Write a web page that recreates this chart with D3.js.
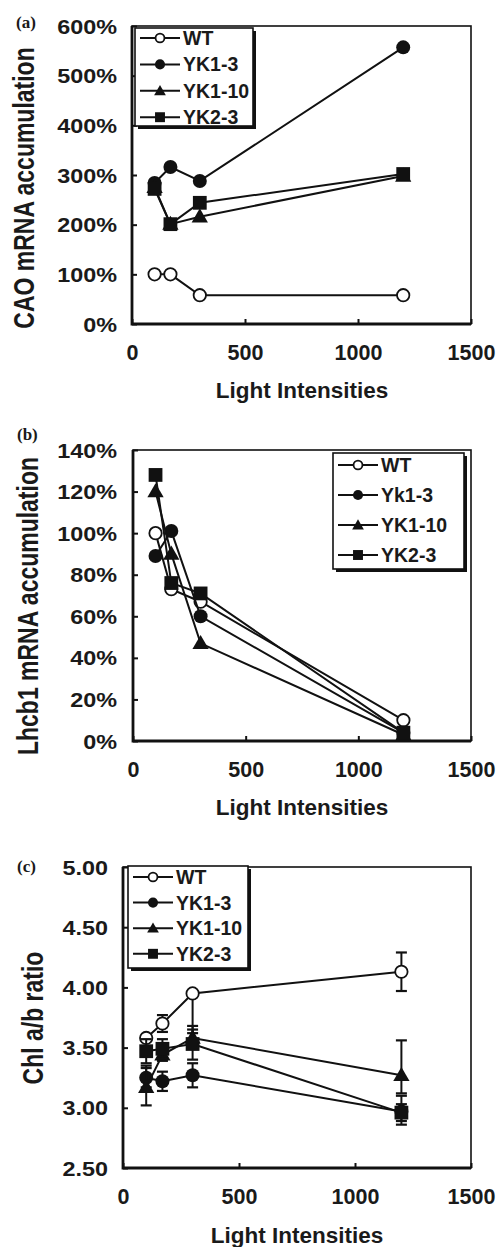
<!DOCTYPE html>
<html>
<head>
<meta charset="utf-8">
<script src="https://cdn.jsdelivr.net/npm/d3@7"></script>
<style>
  body { margin: 0; background: #fff; }
  svg { display: block; }
  text { font-family: "Liberation Sans", Arial, sans-serif; font-weight: bold; fill: #1a1a1a; }
</style>
</head>
<body>
<svg id="chart" width="499" height="1247"></svg>
<script>
// light intensities (x) shared by all panels
const lightX = [100, 170, 300, 1200];
const xTicks = [0, 500, 1000, 1500];

// (a) CAO mRNA accumulation, %
const caoNames = ["WT", "YK1-3", "YK1-10", "YK2-3"];
const caoWT = [100, 100, 58, 58];
const caoYK13 = [284, 316, 288, 557];
const caoYK110 = [275, 201, 216, 298];
const caoYK23 = [272, 201, 244, 302];
const caoTicks = [0, 100, 200, 300, 400, 500, 600];

// (b) Lhcb1 mRNA accumulation, %
const lhcbNames = ["WT", "Yk1-3", "YK1-10", "YK2-3"];
const lhcbWT = [100, 73, 67, 10];
const lhcbYK13 = [89, 101, 60, 4];
const lhcbYK110 = [120, 90, 47, 3];
const lhcbYK23 = [128, 76, 71, 4];
const lhcbTicks = [0, 20, 40, 60, 80, 100, 120, 140];

// (c) Chl a/b ratio with error bars (up / down)
const chlNames = ["WT", "YK1-3", "YK1-10", "YK2-3"];
const chlWT = [3.58, 3.70, 3.95, 4.13];
const chlYK13 = [3.25, 3.22, 3.27, 2.97];
const chlYK110 = [3.17, 3.44, 3.58, 3.27];
const chlYK23 = [3.47, 3.49, 3.53, 2.96];
const errUpWT = [0.03, 0.07, 0, 0.16];
const errDnWT = [0.03, 0.07, 0.33, 0.16];
const errUpYK13 = [0.08, 0.08, 0.1, 0.13];
const errDnYK13 = [0.08, 0.08, 0.1, 0.11];
const errUpYK110 = [0.18, 0.05, 0.07, 0.29];
const errDnYK110 = [0.15, 0.05, 0.07, 0.15];
const errUpYK23 = [0.1, 0.08, 0.15, 0.07];
const errDnYK23 = [0.1, 0.08, 0.13, 0.07];
const chlTicks = [2.5, 3.0, 3.5, 4.0, 4.5, 5.0];

const markerTypes = ["open", "circle", "triangle", "square"];

let svg = d3.select("#chart");

function drawMarker(g, type, x, y, small) {
  let k = small ? 0.72 : 1;
  if (type == "open") {
    g.append("circle").attr("cx", x).attr("cy", y).attr("r", 6.2 * k)
      .style("fill", "#fff").style("stroke", "#111").style("stroke-width", 1.8);
  } else if (type == "circle") {
    g.append("circle").attr("cx", x).attr("cy", y).attr("r", 7 * k).style("fill", "#111");
  } else if (type == "triangle") {
    g.append("path").attr("transform", `translate(${x},${y + 1})`)
      .attr("d", d3.symbol(d3.symbolTriangle, 115 * k * k)()).style("fill", "#111");
  } else {
    g.append("path").attr("transform", `translate(${x},${y})`)
      .attr("d", d3.symbol(d3.symbolSquare, 190 * k * k)()).style("fill", "#111");
  }
}

function drawPanel(p) {
  let g = svg.append("g");
  let xScale = d3.scaleLinear().domain([0, 1500]).range([p.left, p.right]);
  let yScale = d3.scaleLinear().domain(p.yDomain).range([p.bottom, p.top]);

  // frame
  g.append("rect")
    .attr("x", p.left).attr("y", p.top)
    .attr("width", p.right - p.left).attr("height", p.bottom - p.top)
    .style("fill", "none").style("stroke", "#111").style("stroke-width", 1.6);
  g.append("path")
    .attr("d", `M${p.left},${p.top}V${p.bottom}H${p.right}`)
    .style("fill", "none").style("stroke", "#111").style("stroke-width", 2.8);

  // axes (ticks point inside)
  let xAxis = g.append("g")
    .attr("transform", `translate(0,${p.bottom})`)
    .call(d3.axisBottom(xScale).tickValues(xTicks).tickFormat(d3.format("d")).tickSize(-5).tickPadding(21));
  xAxis.select(".domain").remove();
  xAxis.selectAll("line").style("stroke", "#111").style("stroke-width", 2);
  xAxis.selectAll("text").style("font-size", "21.5px").style("font-family", null).attr("fill", "#1a1a1a");

  let sx = 1.2;
  let yAxis = g.append("g")
    .attr("transform", `translate(${p.left},0)`)
    .call(d3.axisLeft(yScale).tickValues(p.yTicks).tickFormat(p.fmt).tickSize(-5));
  yAxis.select(".domain").remove();
  yAxis.selectAll("line").style("stroke", "#111").style("stroke-width", 2);
  yAxis.selectAll("text")
    .attr("x", -p.labelGap / sx)
    .attr("dy", "0.36em")
    .attr("transform", `scale(${sx},1)`)
    .attr("fill", "#1a1a1a")
    .style("font-size", "19.5px").style("font-family", null);

  // axis titles
  g.append("text")
    .attr("x", p.xTitleX).attr("y", p.xTitleY)
    .text("Light Intensities")
    .style("font-size", "22.5px")
    .style("text-anchor", "middle");
  g.append("text")
    .attr("transform", `translate(${p.yTitleX},${p.yTitleY}) rotate(-90) scale(1,1.25)`)
    .attr("dy", "0.35em")
    .text(p.yTitle)
    .style("font-size", p.yTitleSize)
    .style("text-anchor", "middle");

  // panel letter
  g.append("text")
    .attr("x", p.letterX).attr("y", p.letterY)
    .text(p.letter)
    .style("font-family", "'Liberation Serif', 'Times New Roman', serif")
    .style("font-size", "17px");

  // series
  let line = d3.line().x((d, i) => xScale(lightX[i])).y(d => yScale(d));
  p.series.forEach(function(vals, s) {
    let sg = g.append("g");
    sg.append("path")
      .datum(vals)
      .attr("d", line)
      .style("fill", "none").style("stroke", "#111").style("stroke-width", 2);
    if (p.errUp) {
      vals.forEach(function(v, i) {
        let cx = xScale(lightX[i]);
        let hi = yScale(v + p.errUp[s][i]);
        let lo = yScale(v - p.errDn[s][i]);
        sg.append("line").attr("x1", cx).attr("x2", cx).attr("y1", hi).attr("y2", lo)
          .style("stroke", "#111").style("stroke-width", 2);
        if (p.errUp[s][i] > 0.04)
          sg.append("line").attr("x1", cx - 5.5).attr("x2", cx + 5.5).attr("y1", hi).attr("y2", hi)
            .style("stroke", "#111").style("stroke-width", 2.2);
        if (p.errDn[s][i] > 0.04)
          sg.append("line").attr("x1", cx - 5.5).attr("x2", cx + 5.5).attr("y1", lo).attr("y2", lo)
            .style("stroke", "#111").style("stroke-width", 2.2);
      });
    }
    vals.forEach(function(v, i) {
      drawMarker(sg, markerTypes[s], xScale(lightX[i]), yScale(v), false);
    });
  });

  // legend box with drop shadow
  let L = p.legend;
  let lg = g.append("g");
  lg.append("rect")
    .attr("x", L.x + 3).attr("y", L.y + 3).attr("width", L.w).attr("height", L.h)
    .style("fill", "#111");
  lg.append("rect")
    .attr("x", L.x).attr("y", L.y).attr("width", L.w).attr("height", L.h)
    .style("fill", "#fff").style("stroke", "#111").style("stroke-width", 1.6);
  p.names.forEach(function(name, s) {
    let ry = L.y + L.row0 + s * L.step;
    lg.append("line")
      .attr("x1", L.x + 5).attr("x2", L.x + 45).attr("y1", ry).attr("y2", ry)
      .style("stroke", "#111").style("stroke-width", 2);
    drawMarker(lg, markerTypes[s], L.x + 25, ry, true);
    lg.append("text")
      .attr("x", L.x + 48).attr("y", ry)
      .attr("dy", "0.36em")
      .text(name)
      .style("font-size", "19.5px");
  });
}

drawPanel({
  left: 132, right: 471, top: 26, bottom: 324,
  yDomain: [0, 600], yTicks: caoTicks, fmt: d => d + "%", labelGap: 15,
  series: [caoWT, caoYK13, caoYK110, caoYK23], names: caoNames,
  yTitle: "CAO mRNA accumulation", yTitleX: 24, yTitleY: 188, yTitleSize: "23px",
  xTitleX: 302, xTitleY: 398,
  letter: "(a)", letterX: 16, letterY: 28,
  legend: { x: 135, y: 28, w: 118, h: 98, row0: 10, step: 26.4 }
});

drawPanel({
  left: 133, right: 471, top: 450, bottom: 741,
  yDomain: [0, 140], yTicks: lhcbTicks, fmt: d => d + "%", labelGap: 16,
  series: [lhcbWT, lhcbYK13, lhcbYK110, lhcbYK23], names: lhcbNames,
  yTitle: "Lhcb1 mRNA accumulation", yTitleX: 28, yTitleY: 606, yTitleSize: "23px",
  xTitleX: 302, xTitleY: 815,
  letter: "(b)", letterX: 17, letterY: 440,
  legend: { x: 333, y: 453, w: 131, h: 116, row0: 12, step: 30 }
});

drawPanel({
  left: 123, right: 471, top: 867, bottom: 1168,
  yDomain: [2.5, 5], yTicks: chlTicks, fmt: d3.format(".2f"), labelGap: 15,
  series: [chlWT, chlYK13, chlYK110, chlYK23], names: chlNames,
  errUp: [errUpWT, errUpYK13, errUpYK110, errUpYK23],
  errDn: [errDnWT, errDnYK13, errDnYK110, errDnYK23],
  yTitle: "Chl a/b ratio", yTitleX: 33, yTitleY: 1018, yTitleSize: "23px",
  xTitleX: 297, xTitleY: 1243,
  letter: "(c)", letterX: 17, letterY: 872,
  legend: { x: 128, y: 866, w: 120, h: 102, row0: 11, step: 25.6 }
});
</script>
</body>
</html>
